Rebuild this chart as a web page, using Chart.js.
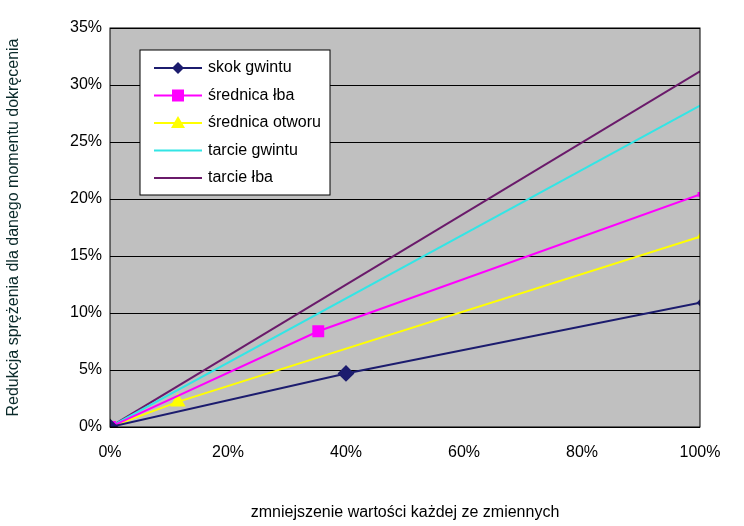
<!DOCTYPE html>
<html><head><meta charset="utf-8">
<script src="https://cdn.jsdelivr.net/npm/chart.js@4"></script>
<style>html,body{margin:0;background:#fff}#w{width:744px;height:526px}</style>
</head><body><div id="w"><canvas id="c"></canvas></div>
<script>
const seriesNames=['skok gwintu','średnica łba','średnica otworu','tarcie gwintu','tarcie łba'];
const seriesX=[[0,40,100],[0,35.3,100],[0,11.5,100],[0,100],[0,100]];
const seriesY=[[0,4.7,10.9],[0,8.4,20.4],[0,2.2,16.7],[0,28.2],[0,31.2]];
const colors=['#1c1c6e','#ff00ff','#ffff00','#33e5e5','#6a1a6a'];
const markers=['rectRot','rect','triangle',false,false];
const yTicks=[0,5,10,15,20,25,30,35];
const F='"Liberation Sans", Arial';
const datasets=seriesNames.map((n,i)=>({label:n,data:seriesX[i].map((x,j)=>({x,y:seriesY[i][j]})),
 borderColor:colors[i],backgroundColor:colors[i],borderWidth:2,
 pointStyle:markers[i]||'circle',pointRadius:markers[i]?seriesX[i].map((x,j)=>j<seriesX[i].length-1?7:2):0,
 pointHoverRadius:0}));
const bg={id:'bg',beforeDraw(ch){const a=ch.chartArea,c=ch.ctx;c.save();c.fillStyle='#c0c0c0';c.fillRect(a.left,a.top,a.right-a.left,a.bottom-a.top);c.restore();},
afterDraw(ch){const a=ch.chartArea,c=ch.ctx;c.save();c.strokeStyle='#000';c.lineWidth=1;c.strokeRect(a.left,a.top,a.right-a.left,a.bottom-a.top);
 const bx=140,by=50,bw=190,bh=145;c.fillStyle='#fff';c.fillRect(bx,by,bw,bh);c.strokeRect(bx,by,bw,bh);
 c.font='16px '+F;c.textBaseline='middle';
 seriesNames.forEach((n,i)=>{const y=by+18+i*27.5;c.strokeStyle=colors[i];c.lineWidth=2;c.beginPath();c.moveTo(bx+14,y);c.lineTo(bx+62,y);c.stroke();
  c.fillStyle=colors[i];const m=markers[i],x=bx+38;c.beginPath();
  if(m==='rectRot'){c.moveTo(x,y-6);c.lineTo(x+6,y);c.lineTo(x,y+6);c.lineTo(x-6,y);}
  else if(m==='rect'){c.rect(x-6,y-6,12,12);}
  else if(m==='triangle'){c.moveTo(x,y-7);c.lineTo(x+7,y+5);c.lineTo(x-7,y+5);}
  c.fill();c.fillStyle='#000';c.fillText(n,bx+68,y);});
 c.restore();}};
new Chart(document.getElementById('c'),{type:'line',data:{datasets},plugins:[bg],
options:{responsive:true,maintainAspectRatio:false,animation:false,
layout:{padding:{top:28,right:44,left:0,bottom:0}},
plugins:{legend:{display:false},tooltip:{enabled:false}},
scales:{x:{type:'linear',min:0,max:100,afterFit:s=>{s.height=99;},ticks:{stepSize:20,padding:8,callback:v=>v+'%',color:'#000',font:{size:16,family:F}},
 grid:{display:false},border:{display:false},
 title:{display:true,text:'zmniejszenie wartości każdej ze zmiennych',color:'#000',font:{size:16,family:F},padding:{top:22}}},
y:{min:0,max:35,afterFit:s=>{s.width=110;},afterBuildTicks:ax=>{ax.ticks=yTicks.map(v=>({value:v}));},ticks:{padding:8,callback:v=>v+'%',color:'#000',font:{size:16,family:F}},
 grid:{color:'#000',drawTicks:false},border:{display:false},
 title:{display:true,text:'Redukcja sprężenia dla danego momentu dokręcenia',color:'#0a2a2a',font:{size:16,family:F},padding:{bottom:18}}}}}});
</script></body></html>
